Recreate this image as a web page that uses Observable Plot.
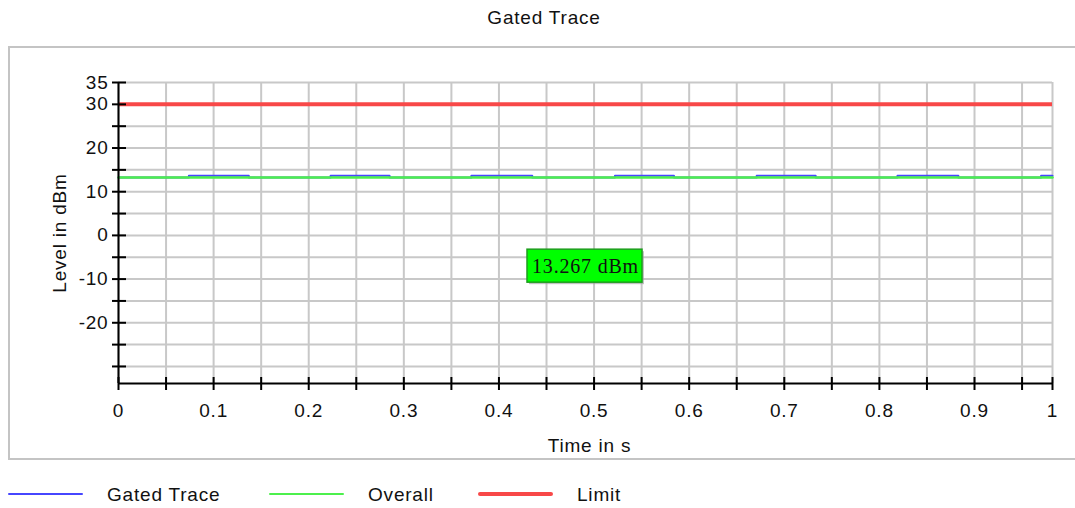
<!DOCTYPE html>
<html>
<head>
<meta charset="utf-8">
<script src="https://cdn.jsdelivr.net/npm/d3@7"></script>
<script src="https://cdn.jsdelivr.net/npm/@observablehq/plot@0.6"></script>
<style>
  html, body { margin: 0; padding: 0; background: #fff; }
  body { width: 1075px; height: 508px; overflow: hidden; position: relative;
         font-family: "Liberation Sans", Arial, Helvetica, sans-serif; color: #111; letter-spacing: 0.8px; }
  #title { position: absolute; left: 0; top: 7px; width: 1088px; text-align: center; font-size: 19px; }
  #frame { position: absolute; left: 8px; top: 46px; width: 1080px; height: 410px;
           border: 2px solid #c4c4c4; box-sizing: content-box; }
  #chart { position: absolute; left: 0; top: 47px; }
  #legend { position: absolute; left: 0; top: 483px; width: 1075px; height: 24px; font-size: 19px; }
  .sw { position: absolute; top: 11px; height: 2px; }
  .lt { position: absolute; top: 1px; }
</style>
</head>
<body>
<div id="title"></div>
<div id="frame"></div>
<div id="chart"></div>
<div id="legend"></div>
<script>
// ---- data ----
const chartTitle = "Gated Trace";
const xLabel = "Time in s";
const yLabel = "Level in dBm";
const xDomain = [0, 0.982];
const yDomain = [-33.9, 35];
const xTicks = [0, 0.05, 0.1, 0.15, 0.2, 0.25, 0.3, 0.35, 0.4, 0.45, 0.5, 0.55, 0.6, 0.65, 0.7, 0.75, 0.8, 0.85, 0.9, 0.95, 0.982];
const xLabelValues = [0, 0.1, 0.2, 0.3, 0.4, 0.5, 0.6, 0.7, 0.8, 0.9, 0.982];
const xLabelText = ["0", "0.1", "0.2", "0.3", "0.4", "0.5", "0.6", "0.7", "0.8", "0.9", "1"];
const yTicks = [-30, -25, -20, -15, -10, -5, 0, 5, 10, 15, 20, 25, 30, 35];
const yLabelValues = [35, 30, 20, 10, 0, -10, -20];
const yLabelText = ["35", "30", "20", "10", "0", "-10", "-20"];

// Gated trace: pulses (start / end in s) and levels in dBm
const pulseStart = [0.074, 0.223, 0.371, 0.522, 0.671, 0.819, 0.970];
const pulseEnd   = [0.137, 0.285, 0.435, 0.584, 0.733, 0.883, 0.982];
const pulseLevel = 13.64;
const gapLevel = 13.267;

// Overall level and limit
const overallTime = [0, 0.982];
const overallLevel = [13.267, 13.267];
const limitLevel = 30;

// Marker annotation
const markerText = "13.267 dBm";
const markerX = 0.491;
const markerY = -7.16;

const seriesNames = ["Gated Trace", "Overall", "Limit"];
const seriesColors = ["#4646ff", "#4cf04c", "#f84848"];
const seriesWidths = [2, 2, 4];

// ---- build tables ----
const gated = [{t: 0, v: gapLevel}];
pulseStart.forEach((s, i) => {
  gated.push({t: s, v: gapLevel}, {t: s, v: pulseLevel}, {t: pulseEnd[i], v: pulseLevel});
  if (pulseEnd[i] < xDomain[1]) gated.push({t: pulseEnd[i], v: gapLevel});
});
const overall = overallTime.map((t, i) => ({t, v: overallLevel[i]}));
const xLabelMap = new Map(xLabelValues.map((v, i) => [v, xLabelText[i]]));
const yLabelMap = new Map(yLabelValues.map((v, i) => [v, yLabelText[i]]));

const gridColor = "#c8c8c8";

const plot = Plot.plot({
  width: 1075,
  height: 412,
  marginLeft: 118,
  marginRight: 23,
  marginTop: 35,
  marginBottom: 76,
  style: {fontFamily: "'Liberation Sans', Arial, sans-serif", fontSize: "19px", color: "#111",
          background: "transparent", overflow: "visible", letterSpacing: "0.8px"},
  x: {domain: xDomain, axis: null},
  y: {domain: yDomain, axis: null},
  marks: [
    Plot.gridX(xTicks, {stroke: gridColor, strokeOpacity: 1, strokeWidth: 2}),
    Plot.gridY(yTicks, {stroke: gridColor, strokeOpacity: 1, strokeWidth: 2}),
    // marker box (shadow + box)
    Plot.rect([{x: markerX, y: markerY}], {x1: "x", x2: "x", y1: "y", y2: "y",
      insetLeft: -56, insetRight: -59, insetTop: -15, insetBottom: -18,
      fill: "#9a9a9a", fillOpacity: 0.6}),
    Plot.rect([{x: markerX, y: markerY}], {x1: "x", x2: "x", y1: "y", y2: "y",
      insetLeft: -58, insetRight: -57, insetTop: -17, insetBottom: -16,
      fill: "#00ff00", stroke: "#1d9e1d", strokeWidth: 1.5}),
    Plot.text([{x: markerX, y: markerY}], {x: "x", y: "y", text: () => markerText,
      fontFamily: "'Liberation Serif', 'DejaVu Serif', serif", fontSize: 20, fill: "#111",
      style: "letter-spacing:0.6px"}),
    // series
    Plot.line(gated, {x: "t", y: "v", stroke: seriesColors[0], strokeWidth: seriesWidths[0]}),
    Plot.line(overall, {x: "t", y: "v", stroke: seriesColors[1], strokeWidth: 2.5}),
    Plot.ruleY([limitLevel], {stroke: seriesColors[2], strokeWidth: 4}),
    // axis lines
    Plot.ruleX([xDomain[0]], {stroke: "#000", strokeWidth: 2}),
    Plot.ruleY([yDomain[0]], {stroke: "#000", strokeWidth: 2}),
    // ticks crossing the axes
    Plot.ruleY(yTicks, {x1: xDomain[0], x2: xDomain[0], insetLeft: -6, insetRight: -8, stroke: "#000", strokeWidth: 2}),
    Plot.ruleX(xTicks, {y1: yDomain[0], y2: yDomain[0], insetTop: -6, insetBottom: -7, stroke: "#000", strokeWidth: 2}),
    // tick labels
    Plot.axisY(yLabelValues, {tickSize: 0, tickPadding: 10, label: null, fontSize: 19, fill: "#111",
      tickFormat: d => yLabelMap.get(d)}),
    Plot.axisX(xLabelValues, {tickSize: 0, tickPadding: 20, label: null, fontSize: 19, fill: "#111",
      tickFormat: d => xLabelMap.get(d)}),
    // axis titles
    Plot.text([yLabel], {frameAnchor: "left", text: d => d, rotate: -90, dx: -59, fontSize: 19, fill: "#111",
      lineAnchor: "middle", textAnchor: "middle"}),
    Plot.text([xLabel], {frameAnchor: "bottom", text: d => d, dx: 4, dy: 62, fontSize: 19, fill: "#111",
      lineAnchor: "middle", textAnchor: "middle"})
  ]
});
document.getElementById("chart").appendChild(plot);
document.getElementById("title").textContent = chartTitle;

// legend
const legendSwatchX = [8, 269, 478];
const legendTextX = [107, 368, 577];
const legend = document.getElementById("legend");
seriesNames.forEach((name, i) => {
  const sw = document.createElement("div");
  sw.className = "sw";
  sw.style.left = legendSwatchX[i] + "px";
  sw.style.width = "75px";
  sw.style.height = seriesWidths[i] + "px";
  sw.style.top = (11 - seriesWidths[i] / 2) + "px";
  sw.style.background = seriesColors[i];
  sw.style.borderRadius = "2px";
  legend.appendChild(sw);
  const tx = document.createElement("div");
  tx.className = "lt";
  tx.style.left = legendTextX[i] + "px";
  tx.textContent = name;
  legend.appendChild(tx);
});
</script>
</body>
</html>
